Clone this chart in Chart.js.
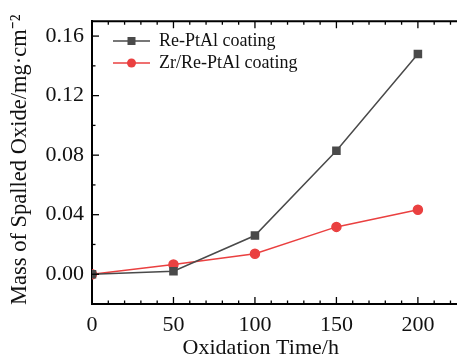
<!DOCTYPE html>
<html>
<head>
<meta charset="utf-8">
<script src="https://cdn.jsdelivr.net/npm/chart.js@4.4.0/dist/chart.umd.min.js"></script>
<style>
  html, body { margin: 0; padding: 0; background: #fff; overflow: hidden; }
  #wrap { width: 457px; height: 361px; }
</style>
</head>
<body>
<div id="wrap"><canvas id="c" width="457" height="361"></canvas></div>
<script>
// data
var times = [0, 50, 100, 150, 200];
var rePtAl = [0.0, 0.002, 0.026, 0.083, 0.148];
var zrRePtAl = [0.0, 0.0065, 0.0138, 0.0318, 0.0433];
var xTicks = [0, 50, 100, 150, 200];
var yTicks = [0, 0.04, 0.08, 0.12, 0.16];
var seriesNames = ["Re-PtAl coating", "Zr/Re-PtAl coating"];

var FONT = "'Liberation Serif', 'Times New Roman', serif";

function pts(ys) {
  return times.map(function (t, i) { return { x: t, y: ys[i] }; });
}

// inward major/minor ticks + top frame (right side is cut off in the figure)
var frame = {
  id: "frame",
  afterDraw: function (chart) {
    var ctx = chart.ctx, a = chart.chartArea;
    var xs = chart.scales.x, ys = chart.scales.y;
    ctx.save();
    ctx.strokeStyle = "#000";
    ctx.lineWidth = 2;
    ctx.beginPath();
    ctx.moveTo(a.left, a.top);
    ctx.lineTo(a.right, a.top);
    ctx.stroke();
    ctx.lineWidth = 1.3;
    var v, p, len;
    for (v = 0; v <= xs.max; v += 10) {
      p = xs.getPixelForValue(v);
      len = v % 50 === 0 ? 7 : 3.5;
      ctx.beginPath();
      ctx.moveTo(p, a.bottom);
      ctx.lineTo(p, a.bottom - len);
      ctx.moveTo(p, a.top);
      ctx.lineTo(p, a.top + len);
      ctx.stroke();
    }
    for (var k = -1; k <= 8; k++) {
      v = k * 0.02;
      if (v < ys.min || v > ys.max) continue;
      p = ys.getPixelForValue(v);
      len = k % 2 === 0 ? 7 : 3.5;
      ctx.beginPath();
      ctx.moveTo(a.left, p);
      ctx.lineTo(a.left + len, p);
      ctx.stroke();
    }
    ctx.restore();
  }
};

// legend drawn inside plot area
var legendIn = {
  id: "legendIn",
  afterDraw: function (chart) {
    var ctx = chart.ctx;
    ctx.save();
    chart.data.datasets.forEach(function (ds, i) {
      var y = 41 + i * 22;
      ctx.strokeStyle = ds.borderColor;
      ctx.lineWidth = 1.5;
      ctx.beginPath();
      ctx.moveTo(113, y);
      ctx.lineTo(150, y);
      ctx.stroke();
      ctx.fillStyle = ds.backgroundColor;
      if (ds.pointStyle === "rect") {
        ctx.fillRect(127.5, y - 4, 8, 8);
      } else {
        ctx.beginPath();
        ctx.arc(131.5, y, 4.5, 0, Math.PI * 2);
        ctx.fill();
      }
      ctx.fillStyle = "#111";
      ctx.font = "18px " + FONT;
      ctx.textBaseline = "middle";
      ctx.fillText(ds.label, 159, y);
    });
    ctx.restore();
  }
};

new Chart(document.getElementById("c").getContext("2d"), {
  type: "line",
  data: {
    datasets: [
      {
        label: seriesNames[0],
        data: pts(rePtAl),
        borderColor: "#4a4a4a",
        backgroundColor: "#4a4a4a",
        borderWidth: 1.5,
        pointStyle: "rect",
        pointRadius: 5,
        pointHoverRadius: 5
      },
      {
        label: seriesNames[1],
        data: pts(zrRePtAl),
        borderColor: "#ea4040",
        backgroundColor: "#ea4040",
        borderWidth: 1.5,
        pointStyle: "circle",
        pointRadius: 4.5,
        pointHoverRadius: 4.5
      }
    ]
  },
  options: {
    responsive: false,
    animation: false,
    layout: { autoPadding: false, padding: { top: 10, right: 0, left: 0, bottom: 0 } },
    plugins: { legend: { display: false }, tooltip: { enabled: false } },
    scales: {
      x: {
        type: "linear",
        min: 0,
        max: 224,
        grid: { display: false, drawTicks: false },
        border: { display: true, color: "#000", width: 2 },
        afterBuildTicks: function (s) {
          s.ticks = xTicks.map(function (v) { return { value: v }; });
        },
        afterFit: function (s) { s.height = 57; },
        ticks: {
          color: "#111",
          padding: 8,
          maxRotation: 0,
          font: { family: FONT, size: 22 }
        },
        title: {
          display: true,
          text: "Oxidation Time/h     ",
          color: "#111",
          padding: { top: 0, bottom: 0 },
          font: { family: FONT, size: 22 }
        }
      },
      y: {
        type: "linear",
        min: -0.02,
        max: 0.17,
        grid: { display: false, drawTicks: false },
        border: { display: true, color: "#000", width: 2 },
        afterBuildTicks: function (s) {
          s.ticks = yTicks.map(function (v) { return { value: v }; });
        },
        afterFit: function (s) { s.width = 92; },
        ticks: {
          color: "#111",
          padding: 8,
          font: { family: FONT, size: 22 },
          callback: function (v) { return v.toFixed(2); }
        },
        title: {
          display: true,
          text: " Mass of Spalled Oxide/mg\u00b7cm\u207b\u00b2",
          color: "#111",
          padding: { top: 7, bottom: 0 },
          font: { family: FONT, size: 22.5 }
        }
      }
    }
  },
  plugins: [frame, legendIn]
});
</script>
</body>
</html>
